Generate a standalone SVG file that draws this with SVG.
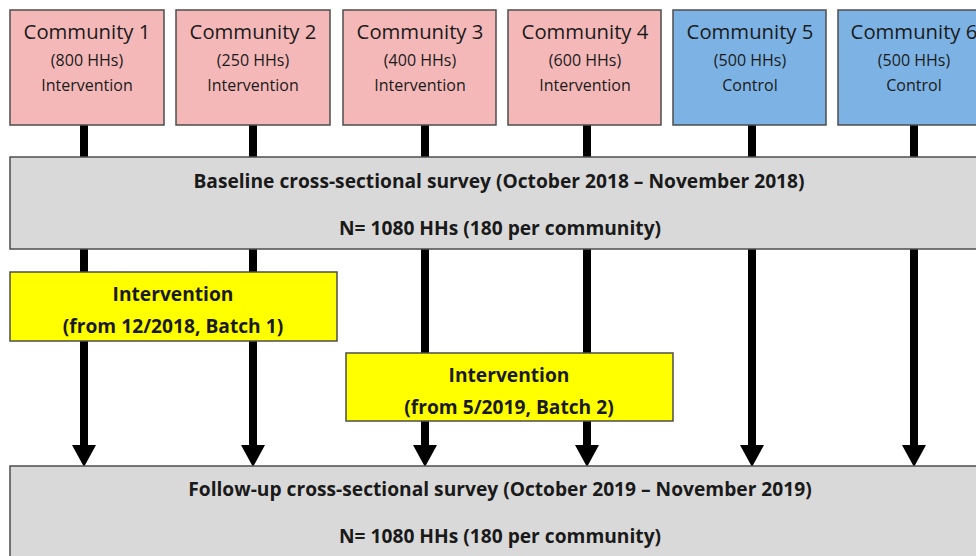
<svg xmlns="http://www.w3.org/2000/svg" width="976" height="556" viewBox="0 0 976 556">
<style>
.box{stroke:#4d4d4d;stroke-width:1.5}
.int{fill:#f4b8b9}
.ctl{fill:#7db3e4}
.survey{fill:#d9d9d9}
.yel{fill:#ffff00}
.t1{font-family:"Open Sans","Liberation Sans",sans-serif;font-size:20.3px;fill:#1a1a1a;text-anchor:middle}
.t2{font-family:"Open Sans","Liberation Sans",sans-serif;font-size:16px;fill:#1a1a1a;text-anchor:middle}
.tb{font-family:"Open Sans","Liberation Sans",sans-serif;font-size:19.2px;font-weight:bold;fill:#1a1a1a;text-anchor:middle}
.ln{stroke:#000;stroke-width:8;fill:none}
</style>
<defs>
<marker id="ah" markerUnits="userSpaceOnUse" viewBox="0 0 22 24" refX="0" refY="12" markerWidth="22" markerHeight="24" orient="auto">
<path d="M0,0 L22,12 L0,24 z" fill="#000"/>
</marker>
</defs>
<rect width="976" height="556" fill="#fff"/>
<g id="connectors">
<path class="ln" d="M84,125V157M84,249V272M253,125V157M253,249V272M425,125V157M425,249V353M587,125V157M587,249V353M752,125V157M914,125V157"/>
<path class="ln" d="M84,341V445" marker-end="url(#ah)"/>
<path class="ln" d="M253,341V445" marker-end="url(#ah)"/>
<path class="ln" d="M425,421V445" marker-end="url(#ah)"/>
<path class="ln" d="M587,421V445" marker-end="url(#ah)"/>
<path class="ln" d="M752,249V445" marker-end="url(#ah)"/>
<path class="ln" d="M914,249V445" marker-end="url(#ah)"/>
</g>
<g id="community1"><rect class="box int" x="10" y="10" width="154" height="115"/><text class="t1" x="87" y="39">Community 1</text><text class="t2" x="87" y="66">(800 HHs)</text><text class="t2" x="87" y="91">Intervention</text></g>
<g id="community2"><rect class="box int" x="176" y="10" width="154" height="115"/><text class="t1" x="253" y="39">Community 2</text><text class="t2" x="253" y="66">(250 HHs)</text><text class="t2" x="253" y="91">Intervention</text></g>
<g id="community3"><rect class="box int" x="343" y="10" width="153" height="115"/><text class="t1" x="420" y="39">Community 3</text><text class="t2" x="420" y="66">(400 HHs)</text><text class="t2" x="420" y="91">Intervention</text></g>
<g id="community4"><rect class="box int" x="508" y="10" width="153" height="115"/><text class="t1" x="585" y="39">Community 4</text><text class="t2" x="585" y="66">(600 HHs)</text><text class="t2" x="585" y="91">Intervention</text></g>
<g id="community5"><rect class="box ctl" x="673" y="10" width="153" height="115"/><text class="t1" x="750" y="39">Community 5</text><text class="t2" x="750" y="66">(500 HHs)</text><text class="t2" x="750" y="91">Control</text></g>
<g id="community6"><rect class="box ctl" x="838" y="10" width="153" height="115"/><text class="t1" x="914" y="39">Community 6</text><text class="t2" x="914" y="66">(500 HHs)</text><text class="t2" x="914" y="91">Control</text></g>
<g id="baseline"><rect class="box survey" x="10" y="157" width="980" height="92"/><text class="tb" x="499" y="188">Baseline cross-sectional survey (October 2018 – November 2018)</text><text class="tb" x="500" y="235">N= 1080 HHs (180 per community)</text></g>
<g id="batch1"><rect class="box yel" x="10" y="272" width="327" height="69"/><text class="tb" x="173" y="301">Intervention</text><text class="tb" x="173" y="333">(from 12/2018, Batch 1)</text></g>
<g id="batch2"><rect class="box yel" x="346" y="353" width="327" height="68"/><text class="tb" x="509" y="382">Intervention</text><text class="tb" x="509" y="414">(from 5/2019, Batch 2)</text></g>
<g id="followup"><rect class="box survey" x="10" y="466" width="980" height="100"/><text class="tb" x="500" y="496">Follow-up cross-sectional survey (October 2019 – November 2019)</text><text class="tb" x="500" y="543">N= 1080 HHs (180 per community)</text></g>
</svg>
